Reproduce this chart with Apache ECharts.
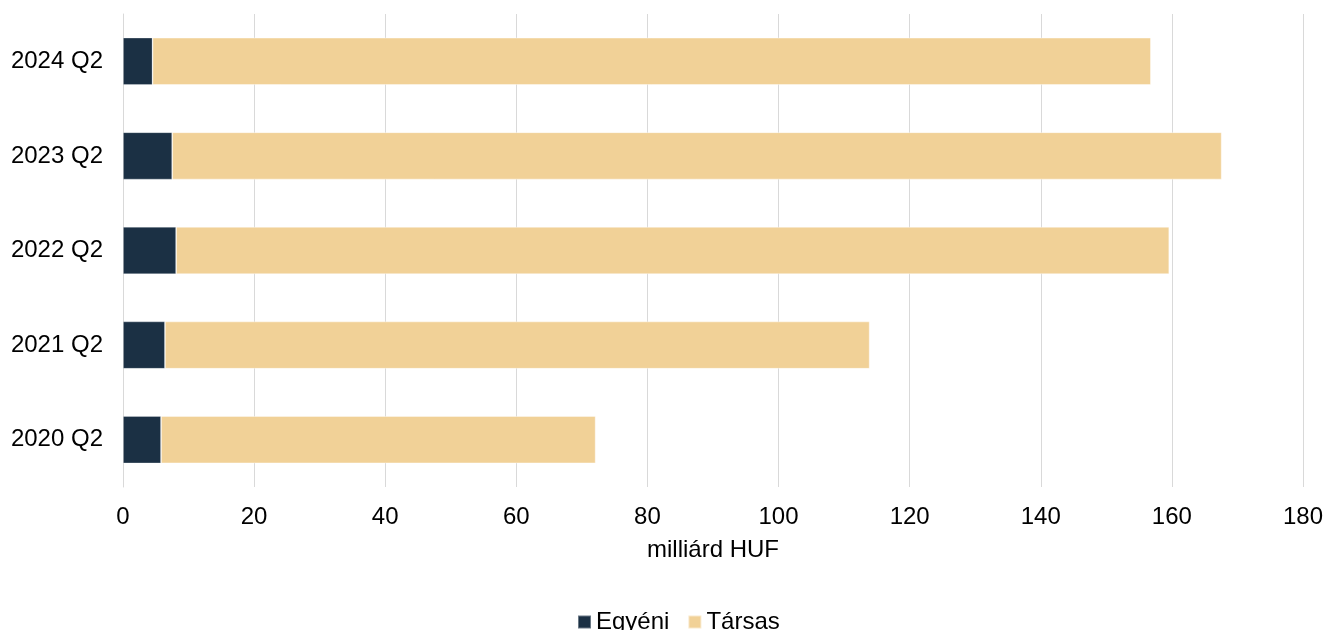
<!DOCTYPE html>
<html>
<head>
<meta charset="utf-8">
<script src="https://cdn.jsdelivr.net/npm/echarts@6/dist/echarts.min.js"></script>
<style>html,body{margin:0;padding:0;background:#fff}#c{width:1326px;height:630px}</style>
</head>
<body>
<div id="c"></div>
<script>
const categories = ['2020 Q2', '2021 Q2', '2022 Q2', '2023 Q2', '2024 Q2'];
const egyeni = [5.8, 6.4, 8.1, 7.5, 4.5];
const tarsas = [66.3, 107.5, 151.5, 160.1, 152.3];
const xTicks = [0, 20, 40, 60, 80, 100, 120, 140, 160, 180];

const chart = echarts.init(document.getElementById('c'));
const font = 'Liberation Sans, Arial, sans-serif';
chart.setOption({
  animation: false,
  textStyle: { fontFamily: font },
  grid: { left: 123, right: 20, top: 14, bottom: 143, containLabel: false },
  legend: {
    top: 605, left: 572,
    itemWidth: 13, itemHeight: 13, itemGap: 18,
    icon: 'rect',
    textStyle: { fontSize: 24, color: '#000', fontFamily: font, padding: [0, 0, 0, 0] },
    data: ['Egyéni', 'Társas']
  },
  xAxis: {
    type: 'value', min: 0, max: 180, interval: 20,
    name: 'milliárd HUF', nameLocation: 'middle', nameGap: 51,
    nameTextStyle: { fontSize: 24, color: '#000', fontFamily: font },
    axisLabel: { fontSize: 24, color: '#000', margin: 18, fontFamily: font,
      formatter: v => xTicks.includes(v) ? String(v) : '' },
    axisLine: { show: false },
    axisTick: { show: false },
    splitLine: { show: true, lineStyle: { color: '#d9d9d9', width: 1 } }
  },
  yAxis: {
    type: 'category', data: categories,
    axisLabel: { fontSize: 24, color: '#000', margin: 20, fontFamily: font },
    axisLine: { show: true, lineStyle: { color: '#d9d9d9', width: 1 } },
    axisTick: { show: false }
  },
  series: [
    { name: 'Egyéni', type: 'bar', stack: 's', data: egyeni, barWidth: '50%',
      itemStyle: { color: '#1b3044', borderColor: 'rgba(255,255,255,0.35)', borderWidth: 0.8 } },
    { name: 'Társas', type: 'bar', stack: 's', data: tarsas, barWidth: '50%',
      itemStyle: { color: '#f1d197', borderColor: 'rgba(255,255,255,0.5)', borderWidth: 0.8 } }
  ]
});
</script>
</body>
</html>
